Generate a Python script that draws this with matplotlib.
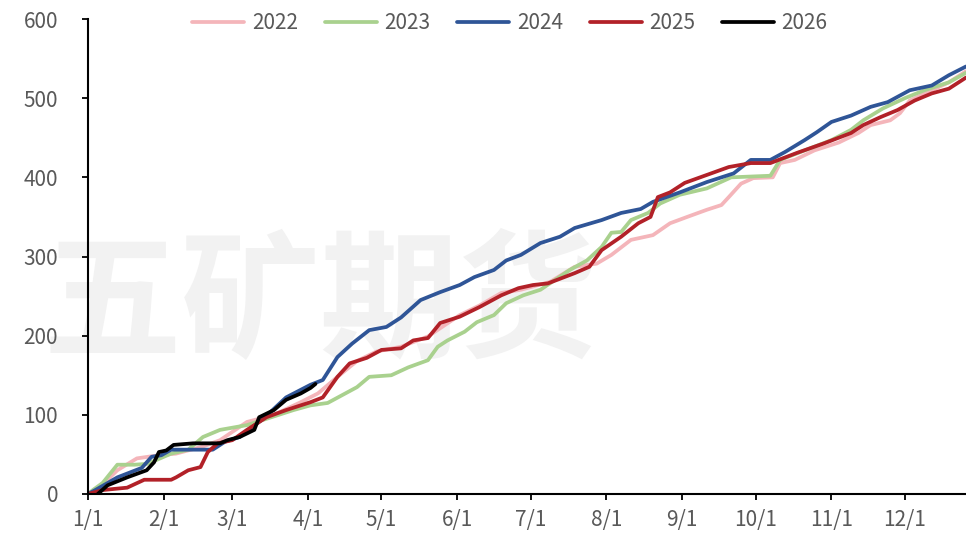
import matplotlib
matplotlib.use("Agg")
import matplotlib.pyplot as plt

plt.rcParams['font.family'] = ['Noto Sans CJK SC', 'DejaVu Sans']

# x = day of year (0 = Jan 1)
month_ticks = [0, 31, 59, 90, 120, 151, 181, 212, 243, 273, 304, 334]
month_labels = ["1/1", "2/1", "3/1", "4/1", "5/1", "6/1", "7/1", "8/1", "9/1", "10/1", "11/1", "12/1"]

days_2022 = [0, 5, 12, 20, 29, 36, 47, 54, 65, 76, 87, 94, 102, 110, 118, 128, 139, 152, 160, 169, 177, 189, 199, 208, 214, 222, 231, 238, 245, 253, 259, 262, 267, 272, 280, 283, 289, 297, 307, 315, 320, 328, 332, 336, 345, 352, 359]
vals_2022 = [0, 9, 30, 45, 49, 51, 60, 68, 91, 100, 116, 127, 148, 168, 180, 186, 199, 226, 238, 254, 258, 268, 287, 291, 302, 321, 327, 342, 350, 359, 365, 375, 392, 399, 400, 418, 422, 434, 444, 456, 466, 472, 481, 497, 510, 520, 534]

days_2023 = [0, 2, 6, 12, 19, 24, 28, 34, 41, 47, 54, 65, 74, 84, 91, 98, 104, 110, 115, 124, 131, 139, 143, 147, 154, 159, 166, 171, 178, 185, 197, 204, 210, 214, 218, 222, 229, 234, 242, 253, 263, 279, 283, 293, 304, 312, 317, 325, 334, 342, 352, 359]
vals_2023 = [0, 5, 14, 37, 37, 38, 43, 51, 56, 72, 81, 87, 96, 106, 112, 115, 125, 135, 148, 150, 160, 169, 186, 194, 205, 217, 226, 241, 251, 258, 283, 295, 312, 330, 331, 346, 355, 367, 378, 386, 400, 402, 422, 434, 447, 460, 472, 487, 500, 510, 520, 532]

days_2024 = [0, 3, 12, 22, 26, 30, 34, 51, 56, 62, 72, 81, 91, 96, 102, 108, 115, 122, 128, 136, 144, 152, 158, 166, 171, 177, 185, 193, 199, 210, 218, 226, 231, 242, 253, 264, 271, 279, 285, 293, 298, 304, 312, 320, 327, 336, 345, 352, 359]
vals_2024 = [0, 5, 21, 33, 47, 49, 56, 56, 66, 72, 96, 122, 138, 144, 173, 190, 207, 211, 223, 245, 255, 264, 274, 283, 295, 302, 317, 325, 336, 346, 355, 360, 369, 381, 394, 405, 422, 422, 432, 447, 457, 470, 478, 489, 495, 510, 516, 529, 540]

days_2025 = [0, 6, 16, 23, 34, 36, 41, 46, 49, 53, 59, 65, 73, 81, 91, 96, 102, 107, 114, 120, 128, 133, 139, 144, 152, 160, 169, 176, 182, 188, 199, 205, 210, 218, 225, 230, 233, 238, 244, 253, 262, 271, 279, 290, 301, 312, 317, 324, 331, 338, 345, 352, 359]
vals_2025 = [0, 5, 8, 18, 18, 21, 30, 34, 53, 64, 68, 81, 97, 106, 116, 122, 148, 165, 172, 182, 184, 194, 197, 216, 224, 236, 251, 260, 264, 266, 279, 287, 308, 325, 342, 350, 375, 381, 393, 403, 413, 418, 418, 431, 443, 456, 466, 476, 485, 497, 506, 512, 526]

days_2026 = [4, 8, 16, 24, 27, 29, 32, 35, 43, 54, 57, 62, 68, 70, 76, 81, 87, 91, 93]
vals_2026 = [0, 11, 21, 30, 40, 53, 55, 62, 64, 64, 68, 72, 81, 97, 106, 119, 127, 134, 139]

series = [
    ("2022", days_2022, vals_2022, "#f4b5ba"),
    ("2023", days_2023, vals_2023, "#a9d18e"),
    ("2024", days_2024, vals_2024, "#2f5597"),
    ("2025", days_2025, vals_2025, "#b22128"),
    ("2026", days_2026, vals_2026, "#000000"),
]

fig = plt.figure(figsize=(9.66, 5.33), dpi=100)
ax = fig.add_axes([88 / 966, 1 - 494 / 533, 1 - 88 / 966, (494 - 19) / 533])
ax.set_zorder(2)
ax.set_facecolor('none')

# watermark (behind the axes)
fig.text(320 / 966, 1 - 306 / 533, "五矿期货", fontsize=100, fontweight='bold',
         color='#f2f2f2', ha='center', va='center', zorder=0)

for name, d, v, c in series:
    ax.plot(d, v, color=c, lw=2.7, label=name, solid_capstyle='round')

ax.set_xlim(0, 359)
ax.set_ylim(0, 600)
ax.set_yticks([0, 100, 200, 300, 400, 500, 600])
ax.set_xticks(month_ticks)
ax.set_xticklabels(month_labels)

for s in ['top', 'right']:
    ax.spines[s].set_visible(False)
for s in ['left', 'bottom']:
    ax.spines[s].set_color('black')
    ax.spines[s].set_linewidth(1.5)

ax.tick_params(axis='both', direction='out', length=4.5, width=1.3, colors='black',
               labelcolor='#595959', labelsize=15)
ax.tick_params(axis='y', pad=17)
ax.tick_params(axis='x', pad=6)

fig.legend(loc='center', bbox_to_anchor=(510 / 966, 1 - 23 / 533), ncol=5,
           frameon=False, fontsize=15, handlelength=2.5, handletextpad=0.35,
           columnspacing=1.3, labelcolor='#595959')

fig.savefig("out.png", dpi=100)
